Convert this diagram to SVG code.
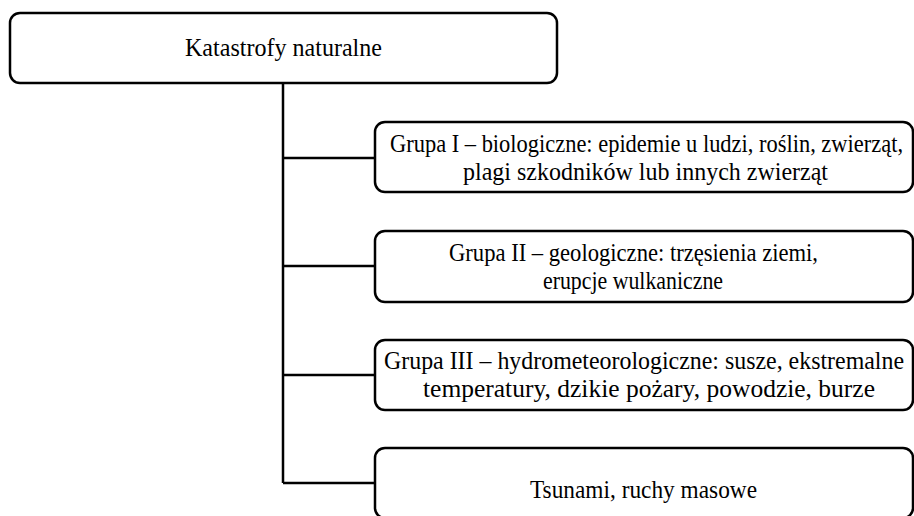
<svg xmlns="http://www.w3.org/2000/svg" width="914" height="516" viewBox="0 0 914 516">
<style>
.box{fill:#fff;stroke:#000;stroke-width:2.5}
.ln{fill:none;stroke:#000;stroke-width:2.5}
.t{font-family:'Liberation Serif','Times New Roman',serif;font-size:26px;fill:#000}
</style>
<rect width="914" height="516" fill="#fff"/>
<g id="connectors">
<path class="ln" d="M283 83 V483 M283 158 H375 M283 266 H375 M283 375 H375 M283 483 H375"/>
</g>
<g id="root">
<rect class="box" x="10" y="13" width="547" height="70" rx="10"/>
<text class="t" x="185" y="56" textLength="197" lengthAdjust="spacingAndGlyphs">Katastrofy naturalne</text>
</g>
<g id="g1">
<rect class="box" x="375" y="122" width="538" height="70" rx="10"/>
<text class="t" x="390" y="152" textLength="513" lengthAdjust="spacingAndGlyphs">Grupa I – biologiczne: epidemie u ludzi, roślin, zwierząt,</text>
<text class="t" x="463" y="180" textLength="365" lengthAdjust="spacingAndGlyphs">plagi szkodników lub innych zwierząt</text>
</g>
<g id="g2">
<rect class="box" x="375" y="231" width="538" height="71" rx="10"/>
<text class="t" x="449" y="261" textLength="369" lengthAdjust="spacingAndGlyphs">Grupa II – geologiczne: trzęsienia ziemi,</text>
<text class="t" x="543" y="289" textLength="180" lengthAdjust="spacingAndGlyphs">erupcje wulkaniczne</text>
</g>
<g id="g3">
<rect class="box" x="375" y="340" width="538" height="70" rx="10"/>
<text class="t" x="384" y="369" textLength="520" lengthAdjust="spacingAndGlyphs">Grupa III – hydrometeorologiczne: susze, ekstremalne</text>
<text class="t" x="423" y="397" textLength="452" lengthAdjust="spacingAndGlyphs">temperatury, dzikie pożary, powodzie, burze</text>
</g>
<g id="g4">
<rect class="box" x="375" y="448" width="538" height="70" rx="10"/>
<text class="t" x="530" y="498" textLength="227" lengthAdjust="spacingAndGlyphs">Tsunami, ruchy masowe</text>
</g>
</svg>
